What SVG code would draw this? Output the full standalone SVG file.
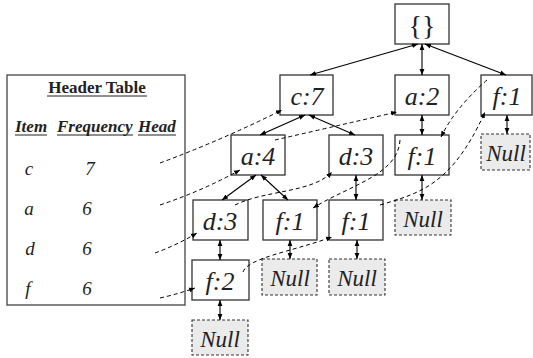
<svg xmlns="http://www.w3.org/2000/svg" width="533" height="358" viewBox="0 0 533 358">
<defs>
<style>
.box{fill:#fff;stroke:#333;stroke-width:1.3}
.null{fill:#ebebeb;stroke:#333;stroke-width:1.1;stroke-dasharray:3,2}
.lbl{font-family:"Liberation Serif",serif;font-style:italic;font-size:26px;fill:#222;text-anchor:middle}
.nl{font-family:"Liberation Serif",serif;font-style:italic;font-size:23px;fill:#222;text-anchor:middle}
.edge{stroke:#000;stroke-width:1.1;fill:none;marker-start:url(#ah);marker-end:url(#ah)}
.link{stroke:#000;stroke-width:1;fill:none;stroke-dasharray:4,3;marker-end:url(#ah2)}
.ht{font-family:"Liberation Serif",serif;font-weight:bold;font-size:17px;fill:#222}
.hh{font-family:"Liberation Serif",serif;font-weight:bold;font-style:italic;font-size:17px;fill:#222}
.row{font-family:"Liberation Serif",serif;font-style:italic;font-size:19px;fill:#222;text-anchor:middle}
.ul{stroke:#222;stroke-width:1}
</style>
<marker id="ah" viewBox="0 0 10 10" refX="10" refY="5" markerWidth="6" markerHeight="6" markerUnits="userSpaceOnUse" orient="auto-start-reverse"><path d="M0,1 L10,5 L0,9 z" fill="#000"/></marker>
<marker id="ah2" viewBox="0 0 10 10" refX="10" refY="5" markerWidth="6" markerHeight="6" markerUnits="userSpaceOnUse" orient="auto"><path d="M0,1 L10,5 L0,9 z" fill="#000"/></marker>
</defs>

<g id="header-table">
<rect x="7" y="75" width="178" height="230" fill="#fff" stroke="#444" stroke-width="1.3"/>
<text class="ht" x="97" y="93" text-anchor="middle">Header Table</text>
<line class="ul" x1="47" y1="96" x2="147" y2="96"/>
<text class="hh" x="15" y="132">Item</text>
<text class="hh" x="57" y="132">Frequency</text>
<text class="hh" x="138" y="132">Head</text>
<line class="ul" x1="15" y1="135" x2="47" y2="135"/>
<line class="ul" x1="57" y1="135" x2="133" y2="135"/>
<line class="ul" x1="138" y1="135" x2="176" y2="135"/>
<text class="row" x="29" y="175">c</text><text class="row" x="90" y="175">7</text>
<text class="row" x="29" y="215">a</text><text class="row" x="87" y="215">6</text>
<text class="row" x="30" y="255">d</text><text class="row" x="87" y="255">6</text>
<text class="row" x="28" y="295">f</text><text class="row" x="87" y="295">6</text>
</g>

<g id="root"><rect class="box" x="395" y="4" width="54" height="40"/><text x="422" y="35" font-family="Liberation Serif,serif" font-size="28" fill="#222" text-anchor="middle">{}</text></g>
<g id="c7"><rect class="box" x="280" y="75" width="53" height="40"/><text class="lbl" x="307" y="105">c:7</text></g>
<g id="a2"><rect class="box" x="395" y="75" width="54" height="40"/><text class="lbl" x="422" y="105">a:2</text></g>
<g id="f1-top"><rect class="box" x="481" y="75" width="51" height="40"/><text class="lbl" x="507" y="105">f:1</text></g>
<g id="a4"><rect class="box" x="231" y="135" width="54" height="40"/><text class="lbl" x="258" y="165">a:4</text></g>
<g id="d3-mid"><rect class="box" x="329" y="135" width="54" height="40"/><text class="lbl" x="356" y="165">d:3</text></g>
<g id="f1-a2"><rect class="box" x="395" y="135" width="54" height="40"/><text class="lbl" x="422" y="165">f:1</text></g>
<g id="null-top"><rect class="null" x="481" y="134" width="49" height="36"/><text class="nl" x="506" y="161">Null</text></g>
<g id="d3-low"><rect class="box" x="193" y="200" width="55" height="40"/><text class="lbl" x="220" y="230">d:3</text></g>
<g id="f1-a4"><rect class="box" x="263" y="200" width="54" height="40"/><text class="lbl" x="290" y="230">f:1</text></g>
<g id="f1-d3"><rect class="box" x="329" y="200" width="54" height="40"/><text class="lbl" x="356" y="230">f:1</text></g>
<g id="null-f1a2"><rect class="null" x="395" y="200" width="56" height="35"/><text class="nl" x="423" y="227">Null</text></g>
<g id="f2"><rect class="box" x="192" y="260" width="57" height="40"/><text class="lbl" x="220" y="290">f:2</text></g>
<g id="null-f1a4"><rect class="null" x="262" y="259" width="55" height="36"/><text class="nl" x="290" y="286">Null</text></g>
<g id="null-f1d3"><rect class="null" x="329" y="259" width="56" height="36"/><text class="nl" x="357" y="286">Null</text></g>
<g id="null-f2"><rect class="null" x="192" y="320" width="56" height="35"/><text class="nl" x="220" y="347">Null</text></g>

<g id="connectors">
<line class="edge" x1="418" y1="44" x2="310" y2="75"/>
<line class="edge" x1="422" y1="44" x2="422" y2="75"/>
<line class="edge" x1="425" y1="44" x2="506" y2="75"/>
<line class="edge" x1="305" y1="115" x2="260" y2="135"/>
<line class="edge" x1="309" y1="115" x2="355" y2="135"/>
<line class="edge" x1="422" y1="115" x2="422" y2="135"/>
<line class="edge" x1="507" y1="115" x2="507" y2="134"/>
<line class="edge" x1="256" y1="175" x2="222" y2="200"/>
<line class="edge" x1="261" y1="175" x2="288" y2="200"/>
<line class="edge" x1="356" y1="175" x2="356" y2="200"/>
<line class="edge" x1="422" y1="175" x2="422" y2="200"/>
<line class="edge" x1="220" y1="240" x2="220" y2="260"/>
<line class="edge" x1="290" y1="240" x2="290" y2="259"/>
<line class="edge" x1="357" y1="240" x2="357" y2="259"/>
<line class="edge" x1="220" y1="300" x2="220" y2="320"/>

<path class="link" d="M160,163 Q222,140 282,110"/>
<path class="link" d="M160,205 Q202,191 240,170"/>
<path class="link" d="M155,253 Q177,245 197,233"/>
<path class="link" d="M160,298 Q178,294 195,288"/>
<path class="link" d="M275,140 Q332,127 397,112"/>
<path class="link" d="M235,205 C265,190 312,193 332,172"/>
<path class="link" d="M243,272 C248,258 290,252 332,237"/>
<path class="link" d="M380,205 C420,193 452,185 485,112"/>
<path class="link" d="M487,80 Q455,108 441,137"/>
<path class="link" d="M400,140 C398,175 350,185 313,208"/>
</g>
</svg>
